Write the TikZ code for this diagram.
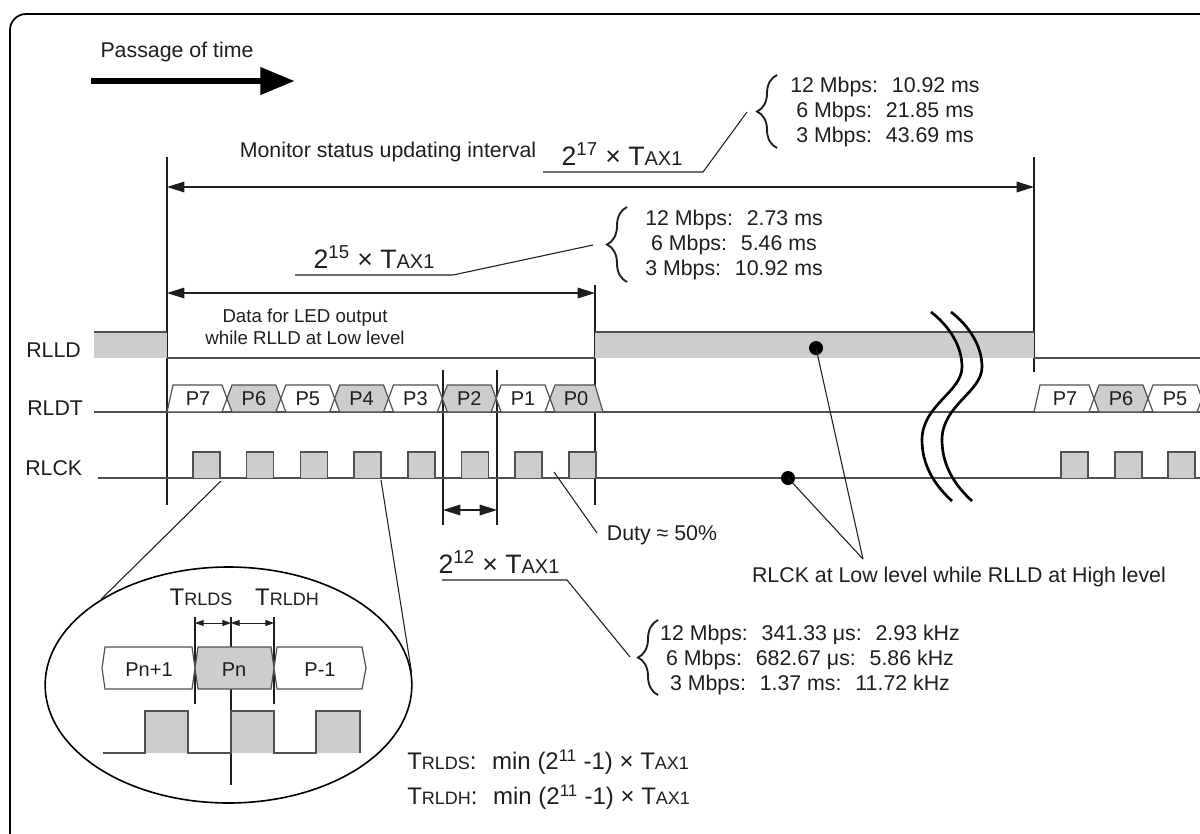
\documentclass[tikz,border=0pt]{standalone}
\usepackage{fontspec}
\setmainfont{Liberation Sans}
\usepackage{graphicx}
\usetikzlibrary{positioning,calc}
\usetikzlibrary{arrows.meta,decorations.pathreplacing,shapes.geometric}
\definecolor{LineGray}{RGB}{80,80,80}
\definecolor{FillGray}{RGB}{205,205,205}
\definecolor{InkBlack}{RGB}{30,30,30}
\newcommand{\lowcap}[1]{\scalebox{0.75}{#1}}
\tikzset{
  sig/.style={draw=LineGray,line width=1.1pt},
  cellbox/.style={draw=LineGray,line width=0.9pt},
  ext/.style={draw=InkBlack,line width=0.9pt},
  lead/.style={draw=InkBlack,line width=0.8pt},
  dimarr/.style={ext,{Triangle[length=13pt,width=8pt]}-{Triangle[length=13pt,width=8pt]}},
  minidim/.style={ext,line width=0.7pt,{Triangle[length=6.5pt,width=4.5pt]}-{Triangle[length=6.5pt,width=4.5pt]}},
  txt/.style={inner sep=0pt,text=InkBlack,font=\fontsize{16}{18.75}\selectfont},
  smalltxt/.style={txt,font=\fontsize{14}{16.5}\selectfont},
  celltxt/.style={txt,font=\fontsize{15}{15}\selectfont},
  formula/.style={txt,font=\fontsize{20}{20}\selectfont},
  timing/.style={txt,font=\fontsize{18}{18}\selectfont},
  curly/.style={draw=InkBlack,line width=1.4pt,decoration={brace,amplitude=15pt},decorate},
  brk/.style={draw=black,line width=2pt},
  blob/.style={circle,fill=black,inner sep=0pt,minimum size=10.5pt},
}

\begin{document}
\begin{tikzpicture}[x=0.75pt,y=-0.75pt]
\useasboundingbox (0,0) rectangle (1200,833);
\clip (0,0) rectangle (1200,833);
% frame
\draw[line width=1.3pt,rounded corners=12pt] (10,14) rectangle (1216,850);

% passage of time
\node[txt] (ptime) at (177,52) {Passage of time};
\draw[line width=5.2pt,-{Triangle[length=26pt,width=19.5pt]}] (91,81) -- (295,81);

% extension lines
\draw[ext] (167,157) -- (167,505);
\draw[ext] (595,285) -- (595,505);
\draw[ext] (1034,157) -- (1034,372);
\draw[ext] (443,370) -- (443,525);
\draw[ext] (497,370) -- (497,525);

% intervals
\draw[dimarr] (167,187) -- (1034,187);
\draw[dimarr] (167,293) -- (595,293);
\draw[dimarr] (443,510) -- (497,510);

\node[txt] (monitor) at (388,152) {Monitor status updating interval};
\node[formula] (f17) at (622,154) {2\textsuperscript{17} × T\lowcap{AX1}};
\draw[lead] (543,172) -- (703,172) -- (747,112);
\draw[curly] (777,148) -- (777,75);
\node[txt,align=center] (b17) at (885,112) {12 Mbps:~ 10.92 ms\\6 Mbps:~ 21.85 ms\\3 Mbps:~ 43.69 ms};

\node[formula] (f15) at (374,257) {2\textsuperscript{15} × T\lowcap{AX1}};
\draw[lead] (295,275) -- (453,275) -- (593,245);
\draw[curly] (627,282) -- (627,207);
\node[txt,align=center] (b15) at (734,245) {12 Mbps:~ 2.73 ms\\6 Mbps:~ 5.46 ms\\3 Mbps:~ 10.92 ms};

\node[smalltxt,align=center] (ledtxt) at (305,327) {Data for LED output\\while RLLD at Low level};

% RLLD
\node[txt,anchor=west] (rlld) at (26,350) {RLLD};
\fill[FillGray] (94,332) rectangle (167,358);
\fill[FillGray] (595,332) rectangle (1034,358);
\draw[sig] (94,332) -- (167,332);
\draw[sig] (167,358) -- (595,358);
\draw[sig] (595,332) -- (1034,332);
\draw[sig] (1034,358) -- (1200,358);

% RLDT
\node[txt,anchor=west] (rldt) at (27,408) {RLDT};
\draw[sig] (94,412) -- (1200,412);
\draw[cellbox,fill=white] (167,412) -- (173,385) -- (222,385) -- (227,398.5) -- (222,412) -- cycle;
\node[celltxt] (cP7) at (198,399) {P7};
\foreach \i/\lab/\col in {1/P6/FillGray,2/P5/white,3/P4/FillGray,4/P3/white,5/P2/FillGray,6/P1/white}{
  \pgfmathsetmacro\l{227+53.83*(\i-1)}
  \pgfmathsetmacro\r{\l+53.83}
  \draw[cellbox,fill=\col] (\l,398.5) -- ({\l+5},385) -- ({\r-5},385) -- (\r,398.5) -- ({\r-5},412) -- ({\l+5},412) -- cycle;
  \node[celltxt] (c\lab) at ({(\l+\r)/2},399) {\lab};
}
\draw[cellbox,fill=FillGray] (550,398.5) -- (555,385) -- (595,385) -- (603,412) -- (555,412) -- cycle;
\node[celltxt] (cP0) at (576,399) {P0};
\draw[cellbox,fill=white] (1034,412) -- (1040,385) -- (1089,385) -- (1094,398.5) -- (1089,412) -- cycle;
\node[celltxt] (rP7) at (1065,399) {P7};
\draw[cellbox,fill=FillGray] (1094,398.5) -- (1099,385) -- (1143,385) -- (1148,398.5) -- (1143,412) -- (1099,412) -- cycle;
\node[celltxt] (rP6) at (1121,399) {P6};
\draw[cellbox,fill=white] (1148,398.5) -- (1153,385) -- (1197,385) -- (1202,398.5) -- (1197,412) -- (1153,412) -- cycle;
\node[celltxt] (rP5) at (1175,399) {P5};

% RLCK
\node[txt,anchor=west] (rlck) at (25,468) {RLCK};
\draw[sig] (98,478) -- (1200,478);
\foreach \i in {0,...,7}{
  \pgfmathsetmacro\r{193+53.7*\i}
  \fill[FillGray] (\r,452) rectangle ({\r+27},478);
  \draw[sig] (\r,478) -- (\r,452) -- ({\r+27},452) -- ({\r+27},478);
}
\foreach \r in {1061,1115,1168}{
  \fill[FillGray] (\r,452) rectangle ({\r+27},478);
  \draw[sig] (\r,478) -- (\r,452) -- ({\r+27},452) -- ({\r+27},478);
}

% breaks
\foreach \s in {0,20}{
  \draw[brk,xshift=\s*0.75pt] (931,312) .. controls (948,325) and (962,345) .. (962,367)
    .. controls (962,392) and (922,405) .. (922,440) .. controls (922,470) and (940,490) .. (952,501);
}

% duty
\draw[lead] (554,472) -- (597,533);
\node[txt] (duty) at (662,535) {Duty ≈ 50\%};

\node[formula] (f12) at (499,562) {2\textsuperscript{12} × T\lowcap{AX1}};
\draw[lead] (442,580) -- (567,580) -- (630,657);
\draw[curly] (658,695) -- (658,620);
\node[txt,align=center] (b12) at (810,660) {12 Mbps:~ 341.33 μs:~ 2.93 kHz\\6 Mbps:~ 682.67 μs:~ 5.86 kHz\\3 Mbps:~ 1.37 ms:~ 11.72 kHz};

% low clock while high load
\node[blob] (hiDot) at (816,348) {};
\node[blob] (loDot) at (788,478) {};
\coordinate (meet) at (863,559);
\draw[lead] (hiDot.center) -- (meet);
\draw[lead] (loDot.center) -- (meet);
\node[txt] (lowhigh) at (959,577) {RLCK at Low level while RLLD at High level};

% magnified view
\node[draw,ellipse,line width=1.2pt,minimum width=275pt,minimum height=177pt,inner sep=0pt] (lens) at (228.5,685) {};
\draw[lead] (221,481) -- (lens.146);
\draw[lead] (381,480) -- (lens.4);

\draw[ext,line width=0.8pt] (195,617) -- (195,704);
\draw[ext,line width=0.8pt] (231,617) -- (231,785);
\draw[ext,line width=0.8pt] (274,617) -- (274,704);
\draw[minidim] (195,623) -- (231,623);
\draw[minidim] (231,623) -- (274,623);
\node[timing] (tsl) at (201,597) {T\lowcap{RLDS}};
\node[timing] (thl) at (287,597) {T\lowcap{RLDH}};

\draw[cellbox,fill=white] (102,668) -- (105,647) -- (192,647) -- (195,668) -- (192,689) -- (105,689) -- cycle;
\draw[cellbox,fill=FillGray] (195,668) -- (198,647) -- (271,647) -- (274,668) -- (271,689) -- (198,689) -- cycle;
\draw[cellbox,fill=white] (274,668) -- (277,647) -- (362,647) -- (366,668) -- (362,689) -- (277,689) -- cycle;
\node[celltxt] (zPa) at (149,670) {Pn+1};
\node[celltxt] (zPb) at (234,670) {Pn};
\node[celltxt] (zPc) at (320,670) {P-1};

\foreach \r in {145,231,316}{
  \fill[FillGray] (\r,711) rectangle ({\r+43},753);
}
\draw[sig] (103,753) -- (145,753) -- (145,711) -- (188,711) -- (188,753) -- (231,753) -- (231,711)
  -- (274,711) -- (274,753) -- (316,753) -- (316,711) -- (360,711) -- (360,753);

% setup / hold
\node[timing,anchor=west] (tsetup) at (407,762) {T\lowcap{RLDS}:~ min (2\textsuperscript{11} -1) × T\lowcap{AX1}};
\node[timing,anchor=west] (thold) at (407,797) {T\lowcap{RLDH}:~ min (2\textsuperscript{11} -1) × T\lowcap{AX1}};
\end{tikzpicture}
\end{document}
